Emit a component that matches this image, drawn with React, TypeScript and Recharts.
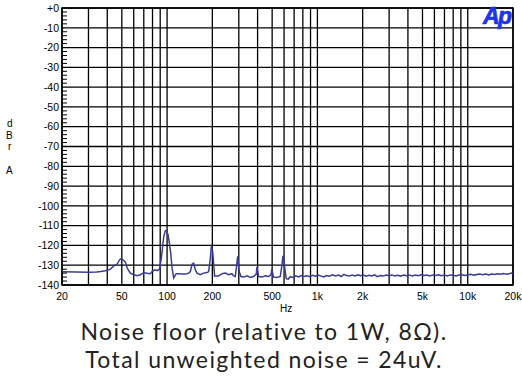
import React from 'react';
import { LineChart, Line, XAxis, YAxis, CartesianGrid, ReferenceArea } from 'recharts';

// noise trace (Hz / dBrA)
const freqs = [
  20, 25, 30, 34, 36.1, 38.9, 42, 44, 46.5, 48.4, 49.7, 51.5, 52.8, 54.2, 55.6, 57, 60, 63.2, 66.5, 69.9,
  73.6, 77.4, 79.5, 82.7, 85.8, 88.9, 91.2, 92.7, 95, 97.4, 99, 101.5, 103.6, 105.7, 108, 110.7, 114.8,
  119.4, 125.8, 132.4, 139.2, 142.8, 146.6, 150.2, 154.2, 158.1, 166.4, 175, 184.4, 189, 194, 197, 201,
  204, 207, 220, 232, 244, 257, 270, 277, 284, 289, 295, 302, 310, 323, 340, 358, 376, 392, 396, 406,
  428, 450, 473, 491, 498, 510, 538, 566, 581, 590, 600, 620, 640, 660, 690, 720, 750, 780, 810, 850,
  890, 930, 970, 1010, 1060, 1100, 1150, 1200, 1260, 1320, 1380, 1440, 1500, 1560, 1630, 1700, 1780,
  1860, 1940, 2020, 2110, 2200, 2300, 2400, 2500, 2620, 2740, 2860, 2990, 3130, 3270, 3420, 3580, 3740,
  3910, 4090, 4280, 4470, 4680, 4890, 5110, 5350, 5590, 5850, 6120, 6400, 6690, 7000, 7320, 7650, 8000,
  8370, 8750, 9150, 9570, 10000, 10500, 11000, 11500, 12000, 12600, 13200, 13800, 14400, 15100, 15800,
  16500, 17300, 18100, 18900, 19500, 20000,
];
const levels = [
  -133.3, -133.4, -133.5, -133.4, -133.2, -132.8, -132.0, -130.5, -129.4, -127.2, -126.6, -127.6, -128.4,
  -131.3, -132.7, -134.0, -134.8, -135.3, -134.8, -133.8, -134.1, -134.3, -133.2, -132.3, -132.7, -132.0,
  -127.3, -123.0, -115.5, -112.6, -112.4, -114.6, -118.8, -123.9, -131.5, -136.5, -134.3, -134.3, -134.5,
  -134.5, -134.0, -133.2, -129.5, -129.0, -132.3, -134.0, -134.8, -134.0, -133.7, -133.2, -126.4, -120.5,
  -123.0, -129.0, -135.4, -135.4, -134.3, -134.0, -134.8, -134.3, -135.4, -135.7, -131.5, -125.5, -133.2,
  -135.7, -136.0, -135.4, -136.2, -135.7, -134.5, -131.0, -135.7, -136.0, -135.4, -135.7, -134.8, -132.0,
  -136.0, -136.2, -135.7, -129.8, -125.2, -128.5, -136.8, -137.0, -135.8, -136.2, -135.4, -135.9, -135.2,
  -135.7, -135.3, -135.8, -135.1, -135.6, -135.0, -135.5, -135.9, -135.2, -135.6, -134.8, -135.4, -135.0,
  -135.7, -134.6, -135.2, -135.5, -135.0, -135.4, -134.9, -135.3, -135.0, -135.6, -135.1, -135.4, -134.9,
  -135.8, -135.2, -135.5, -135.0, -135.3, -134.9, -135.4, -135.1, -135.5, -135.0, -135.3, -134.9, -135.4,
  -135.0, -135.3, -134.8, -135.2, -135.0, -135.4, -134.9, -135.2, -134.8, -135.3, -135.0, -135.4, -134.9,
  -135.1, -135.4, -135.0, -134.8, -135.2, -134.9, -134.6, -135.0, -134.7, -134.4, -134.8, -134.5, -134.9,
  -134.4, -134.7, -134.3, -134.6, -134.2, -134.5, -134.3, -134.0, -134.4,
];

const xTicks = [
  20, 30, 40, 50, 60, 70, 80, 90, 100, 200, 300, 400, 500, 600, 700, 800, 900,
  1000, 2000, 3000, 4000, 5000, 6000, 7000, 8000, 9000, 10000, 20000,
];
const xLabels: Record<number, string> = {
  20: '20', 50: '50', 100: '100', 200: '200', 500: '500',
  1000: '1k', 2000: '2k', 5000: '5k', 10000: '10k', 20000: '20k',
};
// major (labelled, gridded) and every-2-dB minor ticks
const yMajor = [0, -10, -20, -30, -40, -50, -60, -70, -80, -90, -100, -110, -120, -130, -140];
const yTicks = [
  0, -2, -4, -6, -8, -10, -12, -14, -16, -18, -20, -22, -24, -26, -28, -30, -32, -34, -36, -38, -40,
  -42, -44, -46, -48, -50, -52, -54, -56, -58, -60, -62, -64, -66, -68, -70, -72, -74, -76, -78, -80,
  -82, -84, -86, -88, -90, -92, -94, -96, -98, -100, -102, -104, -106, -108, -110, -112, -114, -116,
  -118, -120, -122, -124, -126, -128, -130, -132, -134, -136, -138, -140,
];

const data = freqs.map((f, i) => ({ f, db: levels[i] }));

const axisFont = { fontFamily: '"Liberation Sans", Arial, sans-serif', fontSize: 10.5, fill: '#000' };
const small: React.CSSProperties = {
  position: 'absolute',
  fontFamily: '"Liberation Sans", Arial, sans-serif',
  fontSize: 10,
  lineHeight: '12px',
  color: '#000',
};

// label on the 10 dB ticks, short inward mark on the others
const YTick = (props: any) => {
  const { x, y, payload } = props;
  const v = payload.value;
  if (yMajor.includes(v)) {
    return (
      <text x={x} y={y} dy="0.355em" textAnchor="end" {...axisFont}>
        {v === 0 ? '+0' : String(v)}
      </text>
    );
  }
  const edge = x + 3;
  return <line x1={edge} x2={edge + 5} y1={y} y2={y} stroke="#000" strokeWidth={1} />;
};

export default function App() {
  return (
    <div style={{ position: 'absolute', left: 0, top: 0, width: 522, height: 382, background: '#fff' }}>
      <LineChart width={522} height={315} data={data} margin={{ top: 8, right: 9, bottom: 0, left: 0 }}>
        <CartesianGrid stroke="#000" strokeWidth={1.3} horizontalValues={yMajor} />
        <XAxis
          dataKey="f"
          type="number"
          scale="log"
          domain={[20, 20000]}
          allowDataOverflow
          ticks={xTicks}
          interval={0}
          tickFormatter={(v: number) => xLabels[v] ?? ''}
          tickLine={false}
          axisLine={false}
          tick={axisFont}
          height={30}
        />
        <YAxis
          type="number"
          domain={[-140, 0]}
          ticks={yTicks}
          interval={0}
          tickLine={false}
          axisLine={false}
          tickSize={1}
          tickMargin={2}
          tick={<YTick />}
          width={62}
        />
        <ReferenceArea x1={20} x2={20000} y1={-140} y2={0} fill="none" stroke="#000" strokeWidth={1.5} />
        <Line
          type="linear"
          dataKey="db"
          stroke="#3b3b98"
          strokeWidth={1.5}
          dot={false}
          isAnimationActive={false}
        />
      </LineChart>

      <div style={{ ...small, left: 7, top: 118 }}>d</div>
      <div style={{ ...small, left: 6, top: 130 }}>B</div>
      <div style={{ ...small, left: 8, top: 141 }}>r</div>
      <div style={{ ...small, left: 6, top: 165 }}>A</div>
      <div style={{ ...small, left: 280, top: 303 }}>Hz</div>

      <div
        style={{
          position: 'absolute',
          left: 483,
          top: 5,
          fontFamily: '"Liberation Sans", Arial, sans-serif',
          fontWeight: 'bold',
          fontStyle: 'italic',
          fontSize: 23,
          lineHeight: '23px',
          letterSpacing: -1.5,
          color: '#2032ec',
          WebkitTextStroke: '0.7px #2032ec',
        }}
      >
        Ap
      </div>

      <div
        style={{
          position: 'absolute',
          left: 3,
          top: 318,
          width: 522,
          textAlign: 'center',
          fontFamily: 'Lato, sans-serif',
          fontSize: 23,
          lineHeight: '27.5px',
          letterSpacing: 1.4,
          color: '#222',
        }}
      >
        <div>Noise floor (relative to 1W, 8Ω).</div>
        <div>Total unweighted noise = 24uV.</div>
      </div>
    </div>
  );
}
